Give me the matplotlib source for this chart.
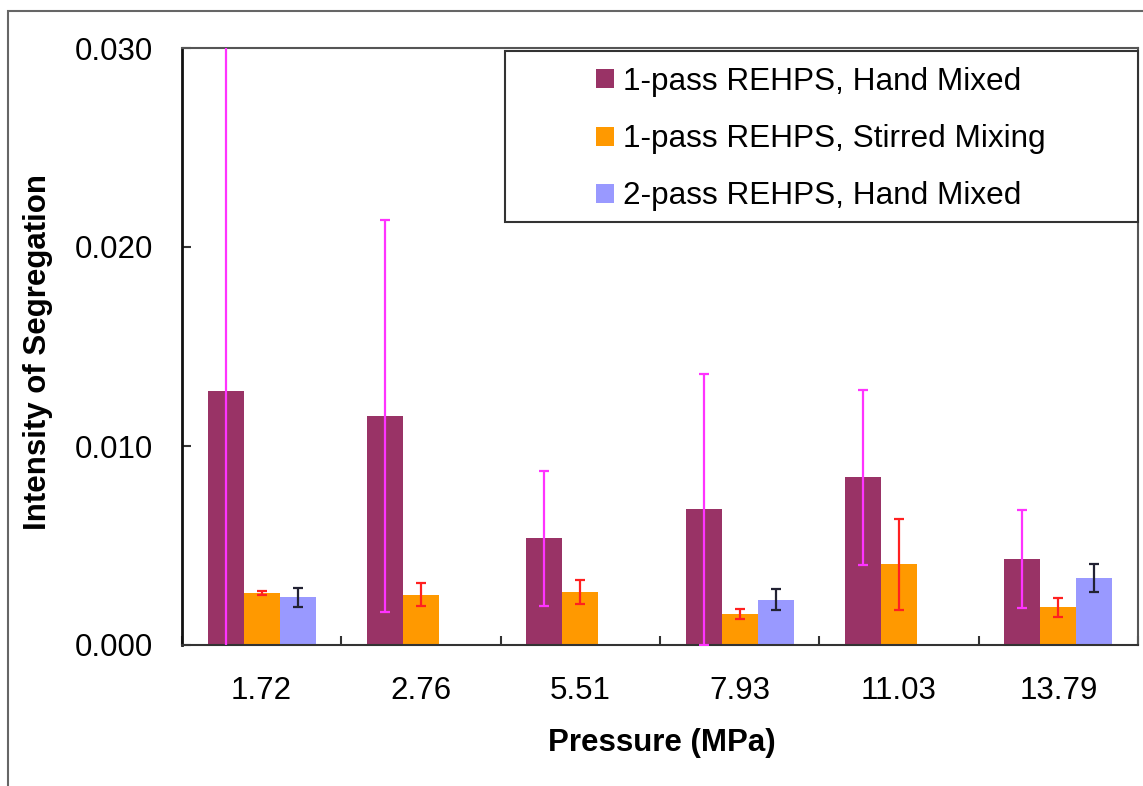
import numpy as np
import matplotlib
matplotlib.use("Agg")
import matplotlib.pyplot as plt
from matplotlib.patches import Rectangle, Patch

plt.rcParams['font.family'] = ['Liberation Sans', 'DejaVu Sans']

# Data
pressures = ["1.72", "2.76", "5.51", "7.93", "11.03", "13.79"]
series_names = ["1-pass REHPS, Hand Mixed",
                "1-pass REHPS, Stirred Mixing",
                "2-pass REHPS, Hand Mixed"]
hand_1pass = [0.01278, 0.01151, 0.00536, 0.00682, 0.00843, 0.00432]
hand_1pass_err = [0.0185, 0.00985, 0.00338, 0.0068, 0.0044, 0.00248]
stirred_1pass = [0.00260, 0.00253, 0.00266, 0.00157, 0.00405, 0.00189]
stirred_1pass_err = [0.0001, 0.00059, 0.0006, 0.00024, 0.0023, 0.00046]
hand_2pass = [0.00240, np.nan, np.nan, 0.00228, np.nan, 0.00335]
hand_2pass_err = [0.00048, np.nan, np.nan, 0.00052, np.nan, 0.00071]

bar_colors = ["#993366", "#FF9900", "#9999FF"]
err_colors = ["#FF33FF", "#FF2020", "#222233"]

W, H = 1143, 786
fig = plt.figure(figsize=(W / 100, H / 100), dpi=100)
ax = fig.add_axes([182 / W, 1 - 645 / H, (1138 - 182) / W, (645 - 48) / H])

x = np.arange(len(pressures))
bw = 0.226
values = [hand_1pass, stirred_1pass, hand_2pass]
errors = [hand_1pass_err, stirred_1pass_err, hand_2pass_err]
for i, (vals, errs) in enumerate(zip(values, errors)):
    pos = x + (i - 1) * bw
    ax.bar(pos, vals, width=bw, color=bar_colors[i], zorder=2)
    ax.errorbar(pos, vals, yerr=errs, fmt='none', ecolor=err_colors[i],
                elinewidth=1.6, capsize=3.3, capthick=1.6, zorder=3)

ax.set_xlim(-0.5, len(pressures) - 0.5)
ax.set_ylim(0, 0.030)
ax.set_yticks([0.0, 0.010, 0.020, 0.030])
ax.set_yticklabels([f"{v:.3f}" for v in [0.0, 0.010, 0.020, 0.030]])
ax.set_xticks(x)
ax.set_xticklabels(pressures)
ax.set_xticks(np.arange(-0.5, len(pressures)), minor=True)
ax.tick_params(axis='x', which='major', length=0, pad=22, labelsize=22.5)
ax.tick_params(axis='x', which='minor', direction='in', length=6.5,
               width=1.5, color='#333333')
ax.tick_params(axis='y', direction='in', length=6.5, width=1.5,
               color='#333333', pad=21, labelsize=22.5)

for side in ['top', 'right']:
    ax.spines[side].set_color('#555555')
    ax.spines[side].set_linewidth(1.5)
ax.spines['left'].set_color('#111111')
ax.spines['left'].set_linewidth(2)
ax.spines['bottom'].set_color('#333333')
ax.spines['bottom'].set_linewidth(1.5)

fig.text(38 / W, 1 - 352 / H, "Intensity of Segregation", rotation=90,
         ha='center', va='center', fontsize=22.5, fontweight='bold')
fig.text(662 / W, 1 - 743 / H, "Pressure (MPa)", ha='center', va='center',
         fontsize=22.5, fontweight='bold')

# Legend frame and entries
lx0, lx1, ly0, ly1 = 504.7, 1137.7, 50.7, 221.7
fig.patches.append(Rectangle((lx0 / W, 1 - ly1 / H), (lx1 - lx0) / W,
                             (ly1 - ly0) / H, transform=fig.transFigure,
                             facecolor='white', edgecolor='#333333',
                             linewidth=1.5, zorder=5))
handles = [Patch(facecolor=c, edgecolor='none') for c in bar_colors]
leg = fig.legend(handles, series_names, loc='center',
                 bbox_to_anchor=((lx0 + lx1) / 2 / W,
                                 1 - ((ly0 + ly1) / 2 + 3) / H),
                 frameon=False, fontsize=22.7, handlelength=0.55,
                 handleheight=0.55, handletextpad=0.3, labelspacing=0.86,
                 borderpad=0)
leg.set_zorder(6)

# Outer border of the figure
fig.patches.append(Rectangle((8 / W, -0.5), 2, 1.5 - 10.7 / H,
                             transform=fig.transFigure, facecolor='none',
                             edgecolor='#666666', linewidth=1.5, zorder=0))

fig.savefig("out.png", dpi=100)
